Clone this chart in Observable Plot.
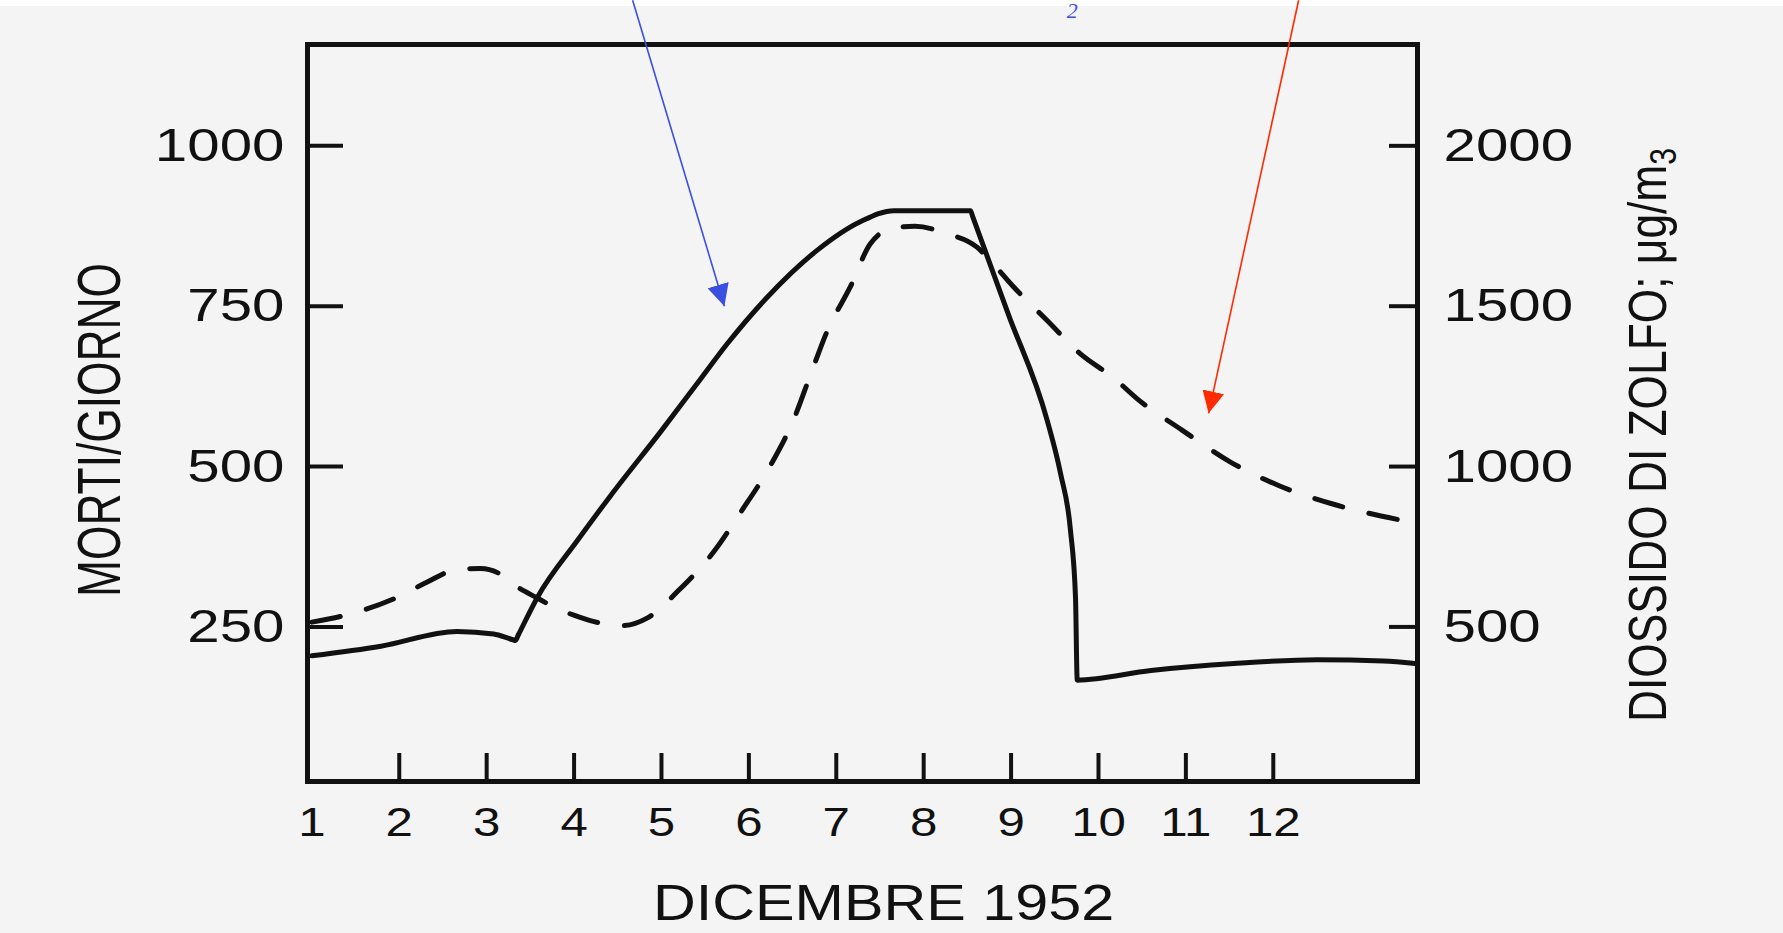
<!DOCTYPE html>
<html>
<head>
<meta charset="utf-8">
<script src="https://cdn.jsdelivr.net/npm/d3@7"></script>
<script src="https://cdn.jsdelivr.net/npm/@observablehq/plot@0.6"></script>
<style>
  html, body { margin: 0; padding: 0; background: #f4f4f4; }
  #chart svg { display: block; }
</style>
</head>
<body>
<div id="chart"></div>
<script>
// ---- data (London smog, December 1952) ----
// Deaths per day (solid line, left axis)
const deathDays   = [1.0, 1.79, 2.66, 3.08, 3.30, 3.33, 3.36, 3.58, 4.04, 4.42, 5.0, 5.45, 5.75, 6.21, 6.78, 7.28, 7.66, 8.1, 8.536, 8.56, 8.97, 9.413, 9.566, 9.68, 9.737, 9.757, 10.6, 11.55, 12.5, 13.26, 13.62];
const deathValues = [205, 220, 243, 239, 230, 229, 237, 296, 385, 455, 556, 637, 691, 764, 837, 882, 899, 899, 899, 890, 737, 572, 489, 400, 296, 167, 182, 193, 199, 197, 193];

// Sulphur dioxide, µg/m3 (dashed line, right axis)
const so2Days   = [1.0, 1.5, 2.0, 2.32, 2.66, 2.93, 3.16, 3.31, 3.58, 3.8, 4.07, 4.3, 4.55, 4.84, 5.2, 5.6, 5.9, 6.25, 6.51, 6.71, 6.9, 7.16, 7.39, 7.66, 7.9, 8.27, 8.61, 8.76, 9.03, 9.41, 9.79, 10.18, 10.44, 10.96, 11.51, 12.06, 12.67, 13.44];
const so2Values = [515, 545, 595, 640, 679, 682, 664, 632, 590, 558, 530, 512, 504, 528, 615, 735, 855, 1005, 1145, 1290, 1425, 1560, 1695, 1745, 1749, 1726, 1684, 1643, 1560, 1456, 1352, 1275, 1212, 1113, 1014, 941, 884, 834];

// ticks
const dayLabels  = [1, 2, 3, 4, 5, 6, 7, 8, 9, 10, 11, 12];
const dayTicks   = [2, 3, 4, 5, 6, 7, 8, 9, 10, 11, 12];
const deathTicks = [250, 500, 750, 1000];
const so2Ticks   = [500, 1000, 1500, 2000];
const so2PerDeath = 2; // right axis unit = 2 x left axis unit

// texts
const xTitle = "DICEMBRE 1952";
const yTitleLeft = "MORTI/GIORNO";
const yTitleRight = "DIOSSIDO DI ZOLFO; \u03bcg/m";
const yTitleRightSub = "3";

// annotation arrows (from the top edge to the curves), in day / deaths units
const arrowColors = ["#3b4fe0", "#ff2a00"];
const arrowX1 = [4.67, 12.29];
const arrowY1 = [1227, 1227];
const arrowX2 = [5.72, 11.26];
const arrowY2 = [750, 583];

// fragment of a title at the top edge
const noteText = ["2"];
const noteDay = [9.70];
const noteValue = [1211];

// ---- build ----
const deaths = deathDays.map((d, i) => ({day: d, value: deathValues[i]}));
const so2 = so2Days.map((d, i) => ({day: d, value: so2Values[i] / so2PerDeath}));
const arrows = arrowX1.map((x1, i) => ({x1, y1: arrowY1[i], x2: arrowX2[i], y2: arrowY2[i]}));
const notes = noteText.map((t, i) => ({t, day: noteDay[i], value: noteValue[i]}));

const ink = "#111";
const font = "Liberation Sans, Arial, Helvetica, sans-serif";

const plot = Plot.plot({
  width: 1783,
  height: 933,
  marginLeft: 307,
  marginRight: 366,
  marginTop: 44,
  marginBottom: 152,
  style: {background: "linear-gradient(#ffffff 0 6px, #f4f4f4 6px)", color: ink, overflow: "visible"},
  x: {domain: [0.95, 13.65], label: null},
  y: {domain: [9, 1158], label: null},
  marks: [
    Plot.frame({stroke: ink, strokeWidth: 5}),
    // left axis (inward ticks)
    Plot.axisY(deathTicks, {anchor: "left", tickSize: 36, dx: 36, tickPadding: 23, strokeWidth: 4,
      tickFormat: d => String(d), fontSize: 47, fontFamily: font, fill: ink}),
    // right axis for SO2 (inward ticks)
    Plot.axisY(so2Ticks.map(v => v / so2PerDeath), {anchor: "right", tickSize: 29, dx: -29, tickPadding: 26, strokeWidth: 4,
      tickFormat: d => String(d * so2PerDeath), fontSize: 47, fontFamily: font, fill: ink}),
    // bottom axis: inward ticks at 2..12, labels 1..12
    Plot.axisX(dayTicks, {anchor: "bottom", tickSize: 28, dy: -28, strokeWidth: 4, tickFormat: () => ""}),
    Plot.axisX(dayLabels, {anchor: "bottom", tickSize: 0, tickPadding: 25, tickFormat: d => String(d),
      fontSize: 41, fontFamily: font, fill: ink}),
    // series
    Plot.line(so2, {x: "day", y: "value", stroke: ink, strokeWidth: 5, strokeDasharray: "29,27",
      strokeLinecap: "round", curve: "monotone-x"}),
    Plot.line(deaths, {x: "day", y: "value", stroke: ink, strokeWidth: 5, curve: "monotone-x"}),
    // titles
    Plot.text([yTitleLeft], {frameAnchor: "left", text: d => d, rotate: -90, dx: -207, dy: 17,
      textAnchor: "middle", lineAnchor: "middle", fontSize: 62, fontFamily: font, fill: ink}),
    Plot.text([yTitleRight], {frameAnchor: "right", text: d => d, rotate: -90, dx: 232, dy: 22,
      textAnchor: "middle", lineAnchor: "middle", fontSize: 53, fontFamily: font, fill: ink}),
    Plot.text([xTitle], {frameAnchor: "bottom", text: d => d, dx: 21, dy: 123,
      textAnchor: "middle", lineAnchor: "middle", fontSize: 49, fontFamily: font, fill: ink}),
    // annotations
    Plot.link([arrows[0]], {x1: "x1", y1: "y1", x2: "x2", y2: "y2", stroke: arrowColors[0], strokeWidth: 1.6}),
    Plot.link([arrows[1]], {x1: "x1", y1: "y1", x2: "x2", y2: "y2", stroke: arrowColors[1], strokeWidth: 1.6}),
    Plot.text(notes, {x: "day", y: "value", text: "t", fontSize: 22, fontStyle: "italic",
      fontFamily: "Liberation Serif, serif", fill: arrowColors[0]})
  ]
});

// ---- finishing touches on the rendered SVG ----
const svg = d3.select(plot);
const defs = svg.append("defs");
arrowColors.forEach((c, i) => {
  defs.append("marker")
    .attr("id", "arrowhead" + i)
    .attr("viewBox", "0 0 20 20")
    .attr("refX", 20).attr("refY", 10)
    .attr("markerWidth", 22).attr("markerHeight", 22)
    .attr("markerUnits", "userSpaceOnUse")
    .attr("orient", "auto")
    .append("path").attr("d", "M0,0L20,10L0,20Z").attr("fill", c);
});
svg.selectAll('g[aria-label="link"] path').each(function(d, i) {
  d3.select(this).attr("marker-end", `url(#arrowhead${i})`);
});

// widen the (extended) typeface of the original around each text's anchor
function stretch(sel, s) {
  sel.each(function() {
    const x = parseFloat(this.getAttribute("x")) || 0;
    const t = this.getAttribute("transform") || "";
    this.setAttribute("transform", `${t} translate(${x},0) scale(${s},1) translate(${-x},0)`);
  });
}
stretch(svg.selectAll('g[aria-label="y-axis tick label"] text'), 1.24);
stretch(svg.selectAll('g[aria-label="x-axis tick label"] text'), 1.2);
stretch(svg.selectAll("text").filter(function() { return this.textContent === xTitle; }), 1.21);

svg.selectAll("text").filter(function() { return this.textContent === yTitleLeft; })
  .attr("textLength", 334).attr("lengthAdjust", "spacingAndGlyphs");
const rightTitle = svg.selectAll("text").filter(function() { return this.textContent === yTitleRight; });
rightTitle.append("tspan").attr("dy", "10").style("font-size", "36px").text(yTitleRightSub);
rightTitle.attr("textLength", 574).attr("lengthAdjust", "spacingAndGlyphs");

document.getElementById("chart").append(plot);
</script>
</body>
</html>
